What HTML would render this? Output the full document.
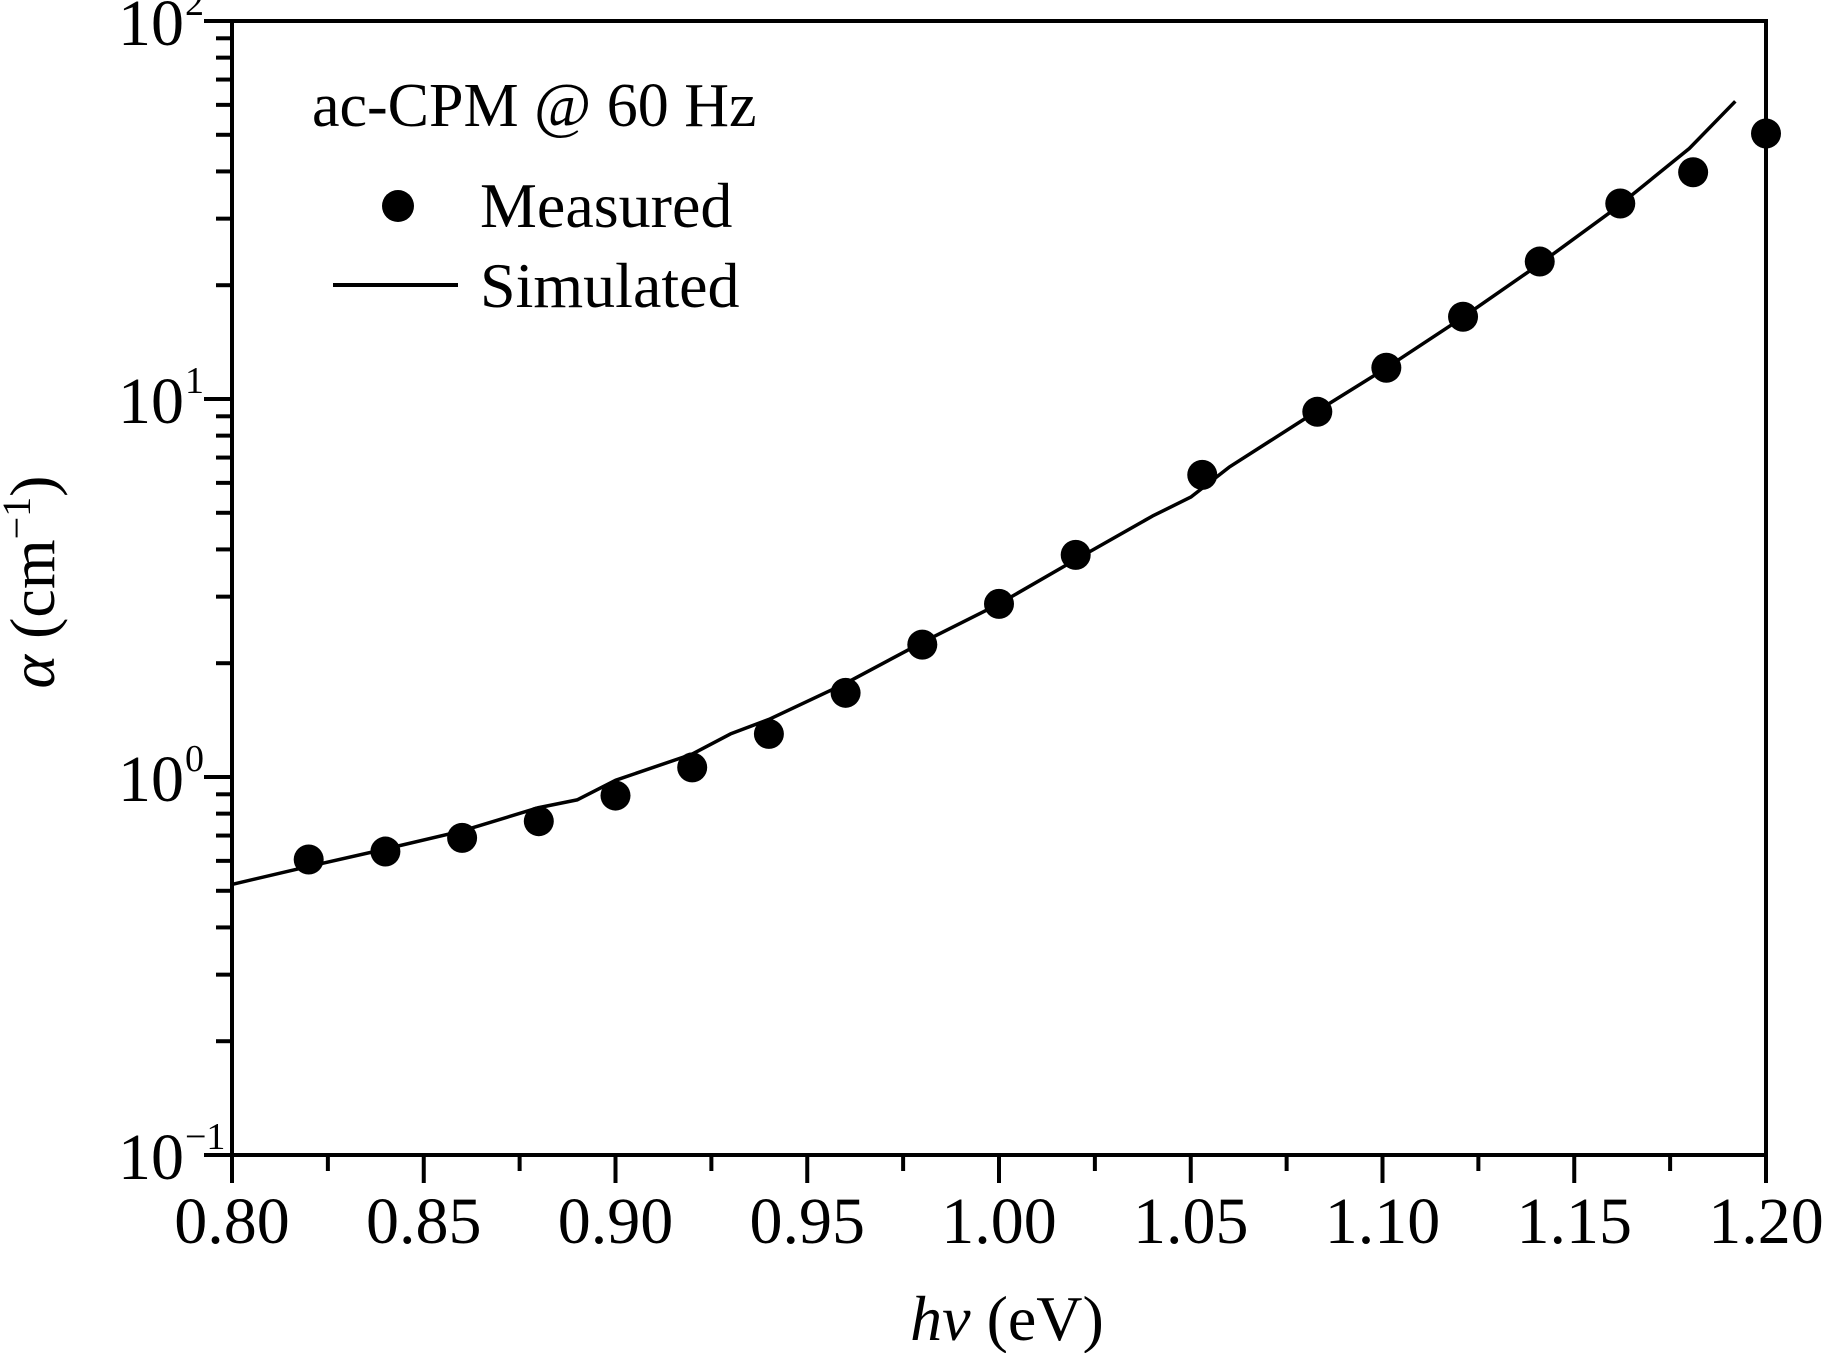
<!DOCTYPE html>
<html><head><meta charset="utf-8"><style>
html,body{margin:0;padding:0;background:#fff}
svg{display:block;font-family:"Liberation Serif",serif}
</style></head><body>
<svg id="chart" width="1824" height="1353" viewBox="0 0 1824 1353"></svg>
<script>
const measuredX=[0.82,0.84,0.86,0.88,0.90,0.92,0.94,0.96,0.98,1.00,1.02,1.053,1.083,1.101,1.121,1.141,1.162,1.181,1.20];
const measuredY=[0.605,0.635,0.69,0.764,0.893,1.06,1.30,1.67,2.24,2.87,3.87,6.3,9.25,12.1,16.5,23.1,32.9,39.8,50.4];
const simX=[0.80,0.82,0.84,0.86,0.88,0.89,0.90,0.92,0.93,0.94,0.96,0.98,1.00,1.02,1.04,1.05,1.06,1.08,1.10,1.12,1.14,1.16,1.18,1.192];
const simY=[0.52,0.58,0.645,0.72,0.83,0.87,0.98,1.15,1.3,1.42,1.77,2.27,2.87,3.76,4.9,5.5,6.6,8.9,11.9,16.2,22.4,31.5,46.0,61.3];
const xTicks=[0.80,0.85,0.90,0.95,1.00,1.05,1.10,1.15,1.20];
const xTickLabels=["0.80","0.85","0.90","0.95","1.00","1.05","1.10","1.15","1.20"];
const yDecades=[-1,0,1,2];

const X0=232,X1=1766,Y0=1155,Y1=21;
const sx=v=>X0+(v-0.80)/(0.40)*(X1-X0);
const sy=v=>Y0-(Math.log10(v)+1)/3*(Y0-Y1);
const svg=document.getElementById('chart');
const NS='http://www.w3.org/2000/svg';
function mk(tag,attrs,parent){const e=document.createElementNS(NS,tag);for(const k in attrs)e.setAttribute(k,attrs[k]);(parent||svg).appendChild(e);return e;}

const frame=mk('rect',{x:X0,y:Y1,width:X1-X0,height:Y0-Y1,fill:'none',stroke:'#000','stroke-width':4});



xTicks.forEach((t,i)=>{
  const x=sx(t);
  const tk=mk('line',{x1:x,x2:x,y1:Y0,y2:Y0+28,stroke:'#000','stroke-width':4});
  
  
  const lb=mk('text',{x:x,y:1243,'font-size':66,'text-anchor':'middle'});
  lb.textContent=xTickLabels[i];
  
  
  if(i<xTicks.length-1){
    const mx=sx(t+0.025);
    const m=mk('line',{x1:mx,x2:mx,y1:Y0,y2:Y0+16,stroke:'#000','stroke-width':4});
    
    
  }
});
yDecades.forEach(d=>{
  const y=sy(Math.pow(10,d));
  const tk=mk('line',{x1:X0-28,x2:X0,y1:y,y2:y,stroke:'#000','stroke-width':4});
  
  
  const lb=mk('text',{x:184,y:y+24,'font-size':66,'text-anchor':'end'});
  lb.textContent='10';
  
  
  const sp=mk('text',{x:185,y:y-6,'font-size':38,'text-anchor':'start'});
  sp.textContent=d<0?'\u2212'+Math.abs(d):String(d);
  
  
  if(d<2){
    for(let k=2;k<=9;k++){
      const my=sy(k*Math.pow(10,d));
      const m=mk('line',{x1:X0-16,x2:X0,y1:my,y2:my,stroke:'#000','stroke-width':4});
      
      
    }
  }
});

const pts=simX.map((x,i)=>sx(x).toFixed(1)+','+sy(simY[i]).toFixed(1)).join(' ');
const line=mk('polyline',{points:pts,fill:'none',stroke:'#000','stroke-width':3.5,'stroke-linejoin':'round'});



measuredX.forEach((x,i)=>{
  const c=mk('circle',{cx:sx(x),cy:sy(measuredY[i]),r:15,fill:'#000'});
  
  
});

const t1=mk('text',{x:312,y:126,'font-size':62});
t1.textContent='ac-CPM @ 60 Hz';


const ld=mk('circle',{cx:398,cy:206,r:16,fill:'#000'});


const t2=mk('text',{x:480,y:227,'font-size':64});
t2.textContent='Measured';


const ll=mk('line',{x1:333,x2:458,y1:285,y2:285,stroke:'#000','stroke-width':4});


const t3=mk('text',{x:480,y:307,'font-size':64});
t3.textContent='Simulated';



const xt=mk('text',{x:1007,y:1340,'font-size':64,'text-anchor':'middle'});
xt.innerHTML='<tspan font-style="italic">hv</tspan> (eV)';


const yt=mk('text',{x:0,y:0,'font-size':64,'text-anchor':'middle',transform:'translate(54,582) rotate(-90)'});
yt.innerHTML='<tspan font-style="italic">α</tspan> (cm<tspan dy="-24" font-size="40">−1</tspan><tspan dy="24">)</tspan>';


</script>
</body></html>
